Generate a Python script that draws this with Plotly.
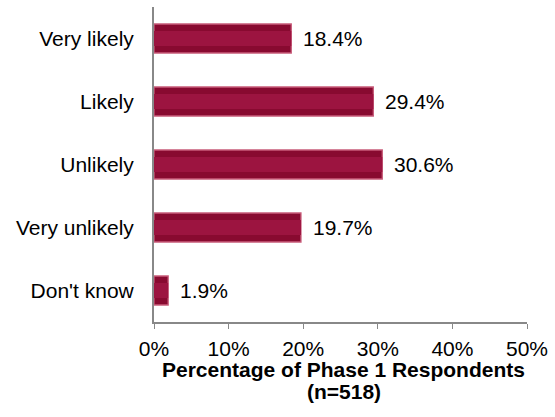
import plotly.graph_objects as go

categories = ["Very likely", "Likely", "Unlikely", "Very unlikely", "Don't know"]
percentages = [18.4, 29.4, 30.6, 19.7, 1.9]
x_ticks = [0, 10, 20, 30, 40, 50]
x_tick_labels = ["0%", "10%", "20%", "30%", "40%", "50%"]
title_lines = ["Percentage of Phase 1 Respondents", "(n=518)"]

FONT = "Liberation Sans, Arial, sans-serif"
SIZE = 21

fig = go.Figure()

# main bevelled bars
fig.add_trace(go.Bar(
    y=categories, x=percentages, orientation="h",
    width=0.46,
    marker=dict(color="#880A30", line=dict(color="#C85C7A", width=1.3)),
    hoverinfo="skip", showlegend=False,
))
# lighter centre band for the raised look
fig.add_trace(go.Bar(
    y=categories, x=percentages, orientation="h",
    width=0.24,
    marker=dict(color="#9C1440", line=dict(width=0)),
    hoverinfo="skip", showlegend=False,
))

for cat, val in zip(categories, percentages):
    fig.add_annotation(
        x=val, y=cat, text=f"{val:.1f}%", showarrow=False,
        xanchor="left", xshift=10,
        font=dict(family=FONT, size=SIZE, color="#000000"),
    )

# two-line axis title, set tighter than the default line height
for line, ypos in zip(title_lines, [-0.152, -0.221]):
    fig.add_annotation(
        x=0.5, y=ypos, xref="paper", yref="paper", xshift=3,
        text=f"<b>{line}</b>", showarrow=False,
        xanchor="center", yanchor="middle",
        font=dict(family=FONT, size=SIZE, color="#000000"),
    )

fig.update_layout(
    barmode="overlay",
    width=555, height=417,
    margin=dict(l=154, r=25, t=7, b=95),
    paper_bgcolor="white", plot_bgcolor="white",
    font=dict(family=FONT, size=SIZE, color="#000000"),
    xaxis=dict(
        range=[0, 50], tickvals=x_ticks, ticktext=x_tick_labels,
        showgrid=False, zeroline=False,
        showline=True, linecolor="#888888", linewidth=2,
        ticks="outside", ticklen=5, tickcolor="#888888", tickwidth=1,
        ticklabelstandoff=2,
        tickfont=dict(size=SIZE),
    ),
    yaxis=dict(
        categoryorder="array", categoryarray=categories[::-1],
        showgrid=False, zeroline=False,
        showline=True, linecolor="#888888", linewidth=2,
        ticks="", ticklabelstandoff=14,
        tickfont=dict(size=SIZE),
    ),
)

fig.write_html("out.html")
